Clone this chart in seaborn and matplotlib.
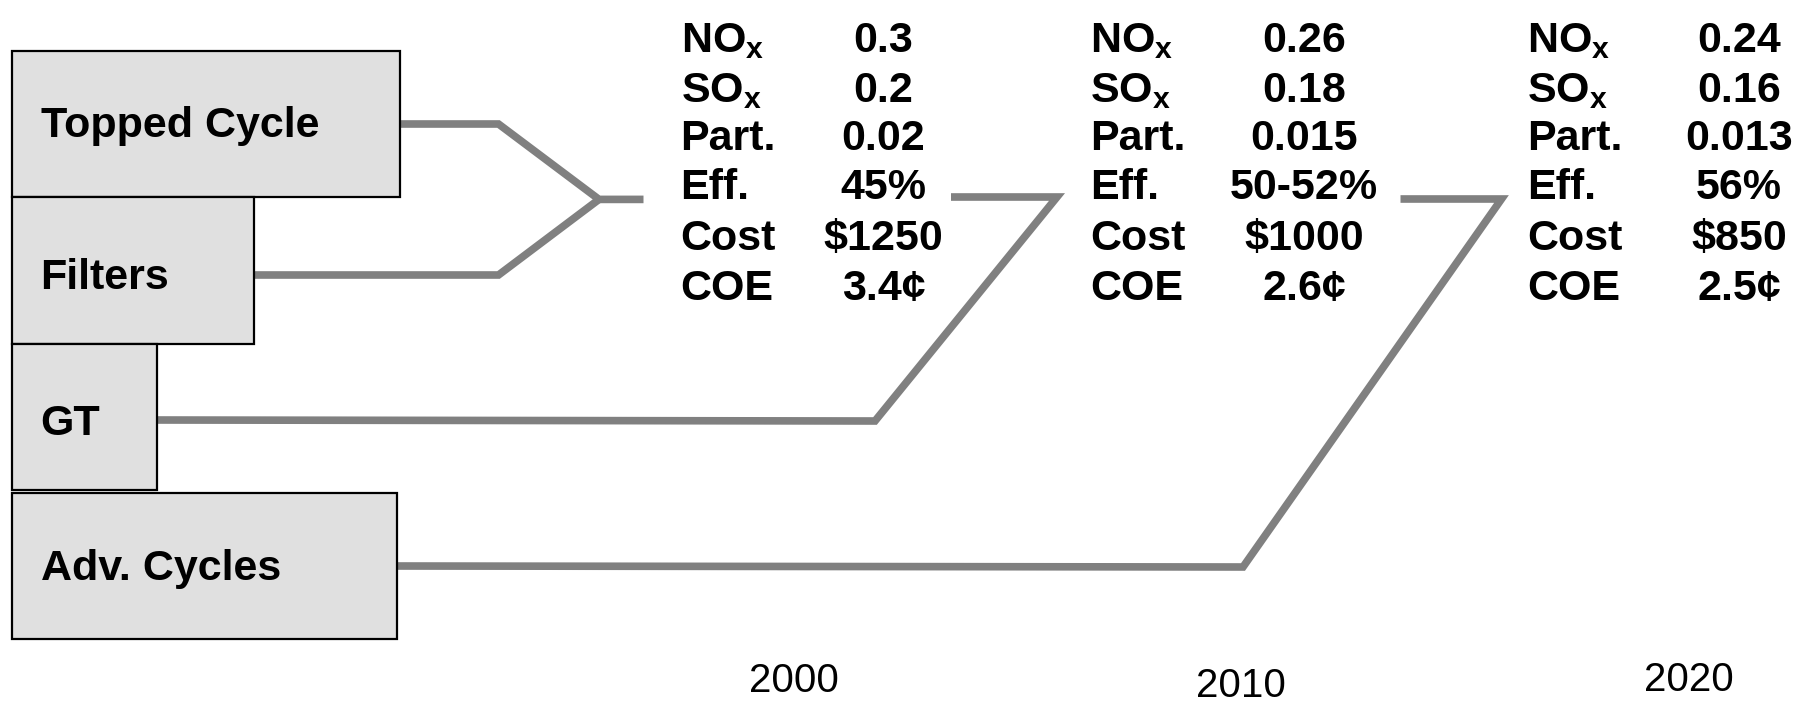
import numpy as np
import pandas as pd
import seaborn as sns
import matplotlib.pyplot as plt
from matplotlib.patches import Rectangle

# technologies (boxes on the left)
technologies = ["Topped Cycle", "Filters", "GT", "Adv. Cycles"]

# table per milestone year
years = ["2000", "2010", "2020"]
metrics = ["NO$_\\mathrm{x}$", "SO$_\\mathrm{x}$", "Part.", "Eff.", "Cost", "COE"]
vals_2000 = ["0.3", "0.2", "0.02", "45%", "$1250", "3.4¢"]
vals_2010 = ["0.26", "0.18", "0.015", "50-52%", "$1000", "2.6¢"]
vals_2020 = ["0.24", "0.16", "0.013", "56%", "$850", "2.5¢"]
table = [vals_2000, vals_2010, vals_2020]

sns.set_theme(style="white")
plt.rcParams["font.family"] = ["Liberation Sans", "DejaVu Sans"]
plt.rcParams["text.color"] = "black"
plt.rcParams["mathtext.fontset"] = "custom"
plt.rcParams["mathtext.rm"] = "Liberation Sans:bold"

fig = plt.figure(figsize=(18.18, 7.04), dpi=100)
ax = fig.add_axes([0, 0, 1, 1])
ax.set_xlim(0, 1818)
ax.set_ylim(704, 0)
ax.axis("off")

# layout (pixel space)
box_right = [400, 254, 156.5, 396.5]
box_top = [51, 197, 344, 493]
box_h = [146, 147, 146, 146]
label_base = [137, 289, 435, 580]
for name, r, t, h, b in zip(technologies, box_right, box_top, box_h, label_base):
    ax.add_patch(Rectangle((11.6, t), r - 11.6, h, facecolor="#e0e0e0",
                           edgecolor="black", linewidth=1.6, zorder=2))
    ax.text(40.6, b, name, fontsize=31, fontweight="bold", va="baseline",
            ha="left", color="black", zorder=3)

# connector paths
paths = {
    "Topped Cycle": [(400, 124), (498.5, 124), (599, 199.4), (643.5, 199.4)],
    "Filters": [(254, 275), (498.5, 275), (599, 199.4)],
    "GT": [(156.5, 420), (875, 421), (1057, 197), (951, 197)],
    "Adv. Cycles": [(396.5, 566), (1243, 567), (1501.5, 199), (1400.5, 199)],
}
rows = []
for k, pts in paths.items():
    for i, (x, y) in enumerate(pts):
        rows.append({"tech": k, "order": i, "x": x, "y": y})
df = pd.DataFrame(rows)
for k in technologies:
    sub = df[df.tech == k]
    sns.lineplot(data=sub, x="x", y="y", sort=False, estimator=None, ax=ax,
                 color="#808080", linewidth=5.5, zorder=1,
                 solid_joinstyle="miter", solid_capstyle="butt")

# tables
label_x = [680.6, 1090, 1527]
value_x = [883.5, 1304, 1739]
row_base = [52.2, 102, 149.6, 199.4, 250.4, 300.3]
for lx, vx, vals in zip(label_x, value_x, table):
    for m, v, yb in zip(metrics, vals, row_base):
        ax.text(lx, yb, m, fontsize=31, fontweight="bold", ha="left",
                va="baseline", color="black")
        ax.text(vx, yb, v, fontsize=31, fontweight="bold", ha="center",
                va="baseline", color="black")

# year labels
year_x = [794, 1240.6, 1689]
year_base = [692, 697, 691]
for yr, x, b in zip(years, year_x, year_base):
    ax.text(x, b, yr, fontsize=29, ha="center", va="baseline", color="black")

fig.savefig("out.png", dpi=100)
